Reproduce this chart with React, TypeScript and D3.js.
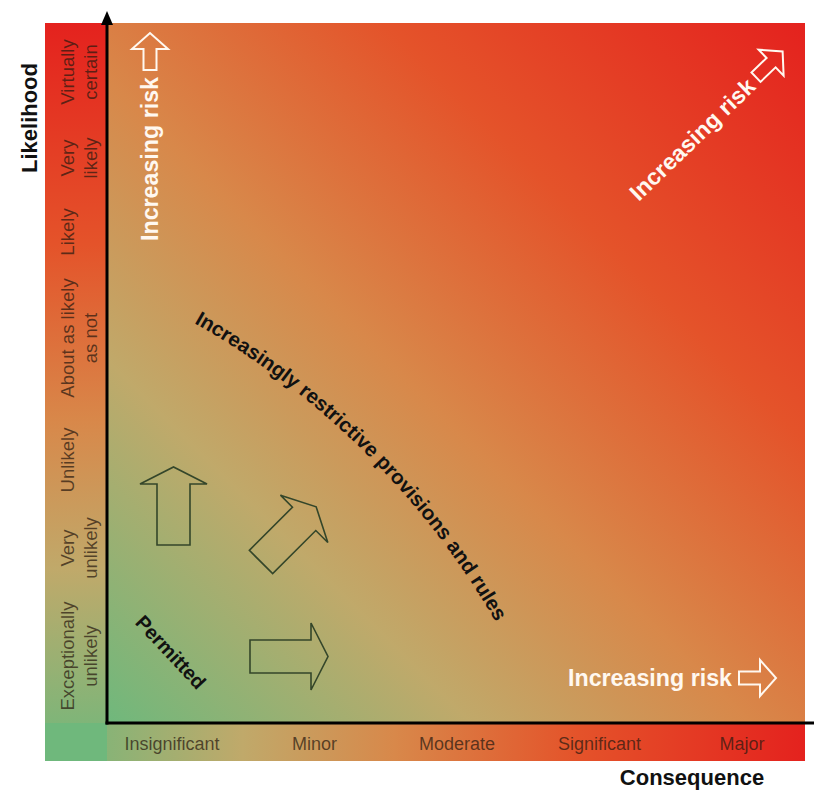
import React from "react";
import * as d3 from "d3";

// ---- data ----
const likelihoodLabels: string[][] = [
  ["Virtually", "certain"],
  ["Very", "likely"],
  ["Likely"],
  ["About as likely", "as not"],
  ["Unlikely"],
  ["Very", "unlikely"],
  ["Exceptionally", "unlikely"],
];
const consequenceLabels = ["Insignificant", "Minor", "Moderate", "Significant", "Major"];
const yAxisTitle = "Likelihood";
const xAxisTitle = "Consequence";
const riskText = "Increasing risk";
const permittedText = "Permitted";
const curvedText = "Increasingly restrictive provisions and rules";

// ---- layout ----
const W = 814;
const H = 791;
const outer = { x0: 45, y0: 23, x1: 805, y1: 761 };
const origin = { x: 107, y: 723 };
const likelihoodCenters = [72, 158, 232, 338, 460, 548, 656];
const gradientStops = [
  { offset: 0, color: "#6fb87c" },
  { offset: 0.26, color: "#c0a96a" },
  { offset: 0.46, color: "#d8884a" },
  { offset: 0.7, color: "#e4532a" },
  { offset: 1, color: "#e4221e" },
];
const FONT = "'Liberation Sans', Arial, Helvetica, sans-serif";
const labelFill = "#2a1a10";

function arrowPoints(L: number, sh: number, hh: number, hl: number): [number, number][] {
  return [
    [0, -sh],
    [L - hl, -sh],
    [L - hl, -hh],
    [L, 0],
    [L - hl, hh],
    [L - hl, sh],
    [0, sh],
  ];
}
const closedLine = d3.line().curve(d3.curveLinearClosed);

function RiskLabel({ transform }: { transform: string }) {
  return (
    <g transform={transform}>
      <text
        x={0}
        y={0}
        dy="0.36em"
        fill="#fff8f0"
        fontFamily={FONT}
        fontWeight="bold"
        fontSize={23}
        textLength={164}
        lengthAdjust="spacingAndGlyphs"
      >
        {riskText}
      </text>
      <path
        transform="translate(171,0)"
        d={closedLine(arrowPoints(37, 6.5, 18, 16)) || ""}
        fill="none"
        stroke="#fff8f0"
        strokeWidth={2}
      />
    </g>
  );
}

export default function App() {
  const xScale = d3.scalePoint<string>().domain(consequenceLabels).range([172, 742]);
  const yScale = d3
    .scaleOrdinal<string, number>()
    .domain(likelihoodLabels.map((l) => l.join(" ")))
    .range(likelihoodCenters);

  const cx = -207;
  const cy = 1029;
  const R = 812;
  const arcPath = d3.path();
  arcPath.arc(cx, cy, R, (-60.4 * Math.PI) / 180, (-18 * Math.PI) / 180, false);

  const darkArrow = closedLine(arrowPoints(78, 16.5, 33.5, 17)) || "";

  const stops = gradientStops.map((s, i) => (
    <stop key={i} offset={s.offset} stopColor={s.color} />
  ));

  return (
    <svg
      width={W}
      height={H}
      viewBox={`0 0 ${W} ${H}`}
      style={{ position: "absolute", left: 0, top: 0, background: "#ffffff" }}
    >
      <defs>
        <linearGradient
          id="gMain"
          gradientUnits="userSpaceOnUse"
          x1={origin.x}
          y1={origin.y}
          x2={outer.x1}
          y2={outer.y0}
        >
          {stops}
        </linearGradient>
        <linearGradient
          id="gLeft"
          gradientUnits="userSpaceOnUse"
          x1={0}
          y1={outer.y1}
          x2={0}
          y2={outer.y0}
        >
          {stops}
        </linearGradient>
        <linearGradient
          id="gBottom"
          gradientUnits="userSpaceOnUse"
          x1={outer.x0}
          y1={0}
          x2={outer.x1}
          y2={0}
        >
          {stops}
        </linearGradient>
        <path id="curvePath" d={arcPath.toString()} />
      </defs>

      {/* background panels */}
      <rect
        x={outer.x0}
        y={outer.y0}
        width={origin.x - outer.x0}
        height={outer.y1 - outer.y0}
        fill="url(#gLeft)"
      />
      <rect
        x={outer.x0}
        y={origin.y}
        width={outer.x1 - outer.x0}
        height={outer.y1 - origin.y}
        fill="url(#gBottom)"
      />
      <rect
        x={outer.x0}
        y={origin.y}
        width={origin.x - outer.x0}
        height={outer.y1 - origin.y}
        fill={gradientStops[0].color}
      />
      <rect
        x={origin.x}
        y={outer.y0}
        width={outer.x1 - origin.x}
        height={origin.y - outer.y0}
        fill="url(#gMain)"
      />

      {/* likelihood labels */}
      {likelihoodLabels.map((lines) => {
        const key = lines.join(" ");
        const yc = yScale(key);
        return (
          <g key={key} transform={`translate(0,${yc}) rotate(-90)`}>
            {lines.map((ln, i) => (
              <text
                key={i}
                x={0}
                y={74 + i * 23}
                textAnchor="middle"
                fontFamily={FONT}
                fontSize={18.5}
                fill={labelFill}
                fillOpacity={0.72}
              >
                {ln}
              </text>
            ))}
          </g>
        );
      })}

      {/* consequence labels */}
      {consequenceLabels.map((c) => (
        <text
          key={c}
          x={xScale(c)}
          y={750}
          textAnchor="middle"
          fontFamily={FONT}
          fontSize={18}
          fill={labelFill}
          fillOpacity={0.72}
        >
          {c}
        </text>
      ))}

      {/* axes */}
      <line x1={origin.x} y1={origin.y + 1.5} x2={origin.x} y2={22} stroke="#000" strokeWidth={3} />
      <path d={`M${origin.x - 6},25L${origin.x},11L${origin.x + 6},25Z`} fill="#000" />
      <line x1={origin.x - 1.5} y1={origin.y} x2={W} y2={origin.y} stroke="#000" strokeWidth={3} />

      {/* axis titles */}
      <text
        transform={`translate(37,118) rotate(-90)`}
        textAnchor="middle"
        fontFamily={FONT}
        fontWeight="bold"
        fontSize={22}
        fill="#111"
      >
        {yAxisTitle}
      </text>
      <text
        x={692}
        y={785}
        textAnchor="middle"
        fontFamily={FONT}
        fontWeight="bold"
        fontSize={22}
        fill="#111"
      >
        {xAxisTitle}
      </text>

      {/* increasing risk labels */}
      <RiskLabel transform="translate(150,241) rotate(-90)" />
      <RiskLabel transform="translate(633,196) rotate(-44)" />
      <RiskLabel transform="translate(568,678)" />

      {/* dark outline arrows */}
      <path
        d={darkArrow}
        transform="translate(173.5,545) rotate(-90)"
        fill="none"
        stroke="#34462a"
        strokeWidth={1.6}
      />
      <path
        d={darkArrow}
        transform="translate(261,562) rotate(-45)"
        fill="none"
        stroke="#34462a"
        strokeWidth={1.6}
      />
      <path
        d={darkArrow}
        transform="translate(250,656.5)"
        fill="none"
        stroke="#34462a"
        strokeWidth={1.6}
      />

      {/* permitted */}
      <text
        transform="translate(171,652) rotate(47)"
        textAnchor="middle"
        dy="0.36em"
        fontFamily={FONT}
        fontWeight="bold"
        fontSize={20}
        fill="#111"
      >
        {permittedText}
      </text>

      {/* curved text */}
      <text fontFamily={FONT} fontWeight="bold" fontSize={20.5} fill="#111">
        <textPath href="#curvePath" startOffset={0}>
          {curvedText}
        </textPath>
      </text>
    </svg>
  );
}
